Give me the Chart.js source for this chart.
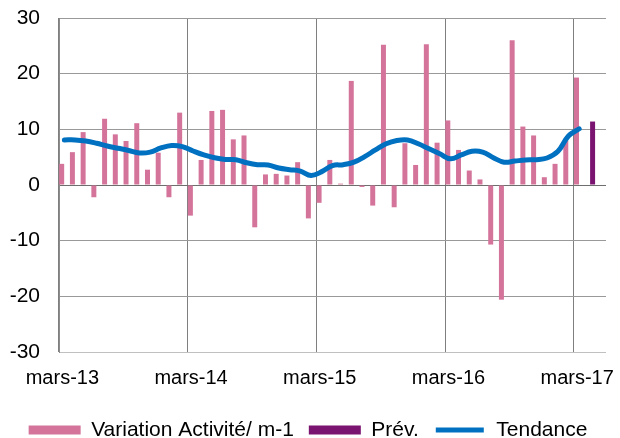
<!DOCTYPE html>
<html>
<head>
<meta charset="utf-8">
<script src="https://cdn.jsdelivr.net/npm/chart.js@4"></script>
<style>
  html, body { margin: 0; padding: 0; background: #fff; }
  #wrap { width: 620px; height: 438px; position: relative; }
</style>
</head>
<body>
<div id="wrap"><canvas id="myChart"></canvas></div>
<script>
// monthly categories, mars-13 .. mai-17
const categories = [
    'mars-13','avr-13','mai-13','juin-13','juil-13','août-13','sept-13','oct-13','nov-13','déc-13','janv-14','févr-14',
    'mars-14','avr-14','mai-14','juin-14','juil-14','août-14','sept-14','oct-14','nov-14','déc-14','janv-15','févr-15',
    'mars-15','avr-15','mai-15','juin-15','juil-15','août-15','sept-15','oct-15','nov-15','déc-15','janv-16','févr-16',
    'mars-16','avr-16','mai-16','juin-16','juil-16','août-16','sept-16','oct-16','nov-16','déc-16','janv-17','févr-17',
    'mars-17','avr-17','mai-17'
];
const tickLabels = ['mars-13', 'mars-14', 'mars-15', 'mars-16', 'mars-17'];

const variation = [
    3.8, 5.9, 9.5, -2.2, 11.9, 9.1, 7.9, 11.1, 2.75, 5.8, -2.2, 13.0,
    -5.5, 4.5, 13.3, 13.5, 8.2, 8.9, -7.6, 1.9, 2.0, 1.7, 4.1, -6.0,
    -3.2, 4.5, 0.25, 18.7, -0.35, -3.7, 25.2, -4.0, 7.5, 3.6, 25.3, 7.6,
    11.6, 6.3, 2.6, 1.0, -10.7, -20.6, 26.0, 10.5, 8.9, 1.4, 3.8, 8.0,
    19.3, null, null
];
const prev = [
    null, null, null, null, null, null, null, null, null, null, null, null,
    null, null, null, null, null, null, null, null, null, null, null, null,
    null, null, null, null, null, null, null, null, null, null, null, null,
    null, null, null, null, null, null, null, null, null, null, null, null,
    null, 11.4, null
];
const tendance = [
    8.1, 8.1, 7.9, 7.5, 7.0, 6.6, 6.2, 5.75, 5.9, 6.65, 7.1, 6.9,
    6.1, 5.4, 4.9, 4.6, 4.55, 4.0, 3.65, 3.6, 3.05, 2.75, 2.5, 1.7,
    2.4, 3.5, 3.65, 4.1, 5.1, 6.3, 7.4, 8.0, 8.1, 7.4, 6.5, 5.6,
    4.7, 5.4, 6.05, 5.9, 4.9, 4.1, 4.3, 4.5, 4.55, 4.85, 6.0, 8.8,
    10.1, null, null
];

const fam = "'Liberation Sans', Arial, sans-serif";

const ctx = document.getElementById('myChart').getContext('2d');
const myChart = new Chart(ctx, {
    type: 'bar',
    data: {
        labels: categories,
        datasets: [
            {
                label: 'Variation Activité/ m-1',
                data: variation,
                backgroundColor: '#d4749a',
                categoryPercentage: 1,
                barPercentage: 0.93,
                order: 2
            },
            {
                label: 'Prév.',
                data: prev,
                backgroundColor: '#7b1471',
                categoryPercentage: 1,
                barPercentage: 0.93,
                order: 3
            },
            {
                type: 'line',
                label: 'Tendance',
                data: tendance,
                borderColor: '#0070c0',
                backgroundColor: '#0070c0',
                borderWidth: 5,
                pointRadius: 0,
                tension: 0.4,
                borderCapStyle: 'round',
                order: 1
            }
        ]
    },
    options: {
        responsive: true,
        maintainAspectRatio: false,
        animation: false,
        layout: { padding: { top: 18, right: 14, left: 10, bottom: -12.5 } },
        plugins: {
            tooltip: { enabled: false },
            legend: {
                position: 'bottom',
                labels: {
                    font: { family: fam, size: 21 },
                    color: '#000',
                    boxWidth: 52,
                    boxHeight: 9,
                    padding: 15,
                    generateLabels: function(chart) {
                        const items = Chart.defaults.plugins.legend.labels.generateLabels(chart);
                        items.forEach(it => {
                            if (it.datasetIndex === 2) {
                                it.fillStyle = '#0070c0';
                                it.strokeStyle = '#fff';
                                it.lineWidth = 4;
                            } else {
                                it.lineWidth = 0;
                            }
                        });
                        return items.sort((a, b) => a.datasetIndex - b.datasetIndex);
                    }
                }
            }
        },
        scales: {
            x: {
                offset: true,
                afterFit: function(scale) {
                    scale.height = 52.5;
                    scale.paddingLeft = 0;
                    scale.paddingRight = 0;
                },
                grid: {
                    offset: true,
                    drawTicks: false,
                    color: function(c) {
                        return c.index % 12 === 0 ? '#7f7f7f' : 'rgba(0,0,0,0)';
                    }
                },
                border: { display: false },
                ticks: {
                    font: { family: fam, size: 20 },
                    color: '#000',
                    autoSkip: false,
                    maxRotation: 0,
                    padding: 14,
                    labelOffset: -2,
                    callback: function(value, index) {
                        const lbl = categories[index];
                        return tickLabels.includes(lbl) ? lbl : '';
                    }
                }
            },
            y: {
                min: -30,
                max: 30,
                afterFit: function(scale) {
                    scale.width = 49;
                    scale.paddingTop = 0;
                    scale.paddingBottom = 0;
                },
                grid: {
                    drawTicks: false,
                    color: function(c) {
                        const v = c.tick ? c.tick.value : null;
                        if (v === 0) return '#6e6e6e';
                        if (v === -30) return '#c0c0c0';
                        return '#999';
                    }
                },
                border: { color: '#8c8c8c' },
                ticks: {
                    font: { family: fam, size: 21 },
                    color: '#000',
                    stepSize: 10,
                    padding: 19
                }
            }
        }
    }
});
</script>
</body>
</html>
